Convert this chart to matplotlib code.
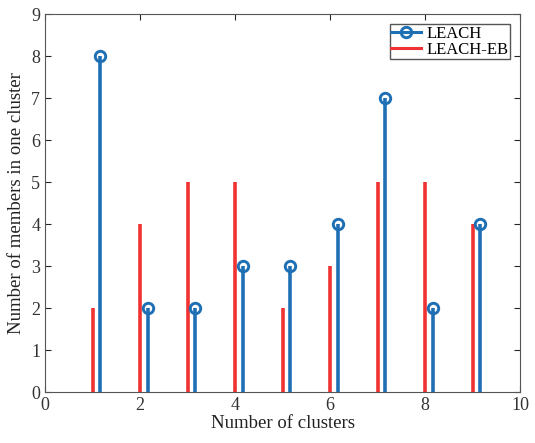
import numpy as np
import matplotlib
matplotlib.use("Agg")
import matplotlib.pyplot as plt
from matplotlib.lines import Line2D
from matplotlib.legend_handler import HandlerLine2D

clusters = [1, 2, 3, 4, 5, 6, 7, 8, 9]
leach = [8, 2, 2, 3, 3, 4, 7, 2, 4]
leach_eb = [2, 4, 5, 5, 2, 3, 5, 5, 4]

BLUE = "#1f6fb5"
RED = "#f03232"
DARK = "#262626"


class StemHandler(HandlerLine2D):
    # legend marker at the right end of the line, like MATLAB stem legends
    def get_xdata(self, legend, xdescent, ydescent, width, height, fontsize):
        xdata = np.array([-xdescent, -xdescent + width])
        return xdata, np.array([-xdescent + width])


plt.rcParams["font.family"] = ["Liberation Serif", "DejaVu Serif"]

fig = plt.figure(figsize=(5.35, 4.43), dpi=100)
ax = fig.add_axes([0.0841, 0.1151, 0.888, 0.853])

x = np.array(clusters, dtype=float)
ax.vlines(x, 0, leach_eb, color=RED, linewidth=2.6)
ml, sl, bl = ax.stem(x + 0.16, leach, linefmt="-", markerfmt="o", basefmt=" ")
plt.setp(sl, color=BLUE, linewidth=2.6)
plt.setp(ml, color=BLUE, markersize=7.5, markerfacecolor="none", markeredgewidth=2.1)

ax.set_xlim(0, 10)
ax.set_ylim(0, 9)
ax.set_xticks(range(0, 11, 2))
ax.set_yticks(range(0, 10))
ax.tick_params(direction="in", top=True, right=True, labelsize=13, length=4,
               color=DARK, labelcolor="#333333")
for s in ax.spines.values():
    s.set_color("#555555")
ax.set_xlabel("Number of clusters", fontsize=13.5, labelpad=1, color="#222222")
ax.set_ylabel("Number of members in one cluster", fontsize=13.5, labelpad=4,
              color="#222222")

h_leach = Line2D([], [], color=BLUE, linewidth=2.2, marker="o", markersize=7.5,
                 markerfacecolor="none", markeredgewidth=2.1)
h_eb = Line2D([], [], color=RED, linewidth=2.2)
ax.legend([h_leach, h_eb], ["LEACH", "LEACH-EB"], loc="upper right",
          fontsize=12, frameon=True, fancybox=False, edgecolor="#555555",
          framealpha=1, borderpad=0.1, handlelength=1.8, handletextpad=0.3,
          labelspacing=0.0, borderaxespad=0.6,
          handler_map={h_leach: StemHandler()})

fig.savefig("out.png", dpi=100)
